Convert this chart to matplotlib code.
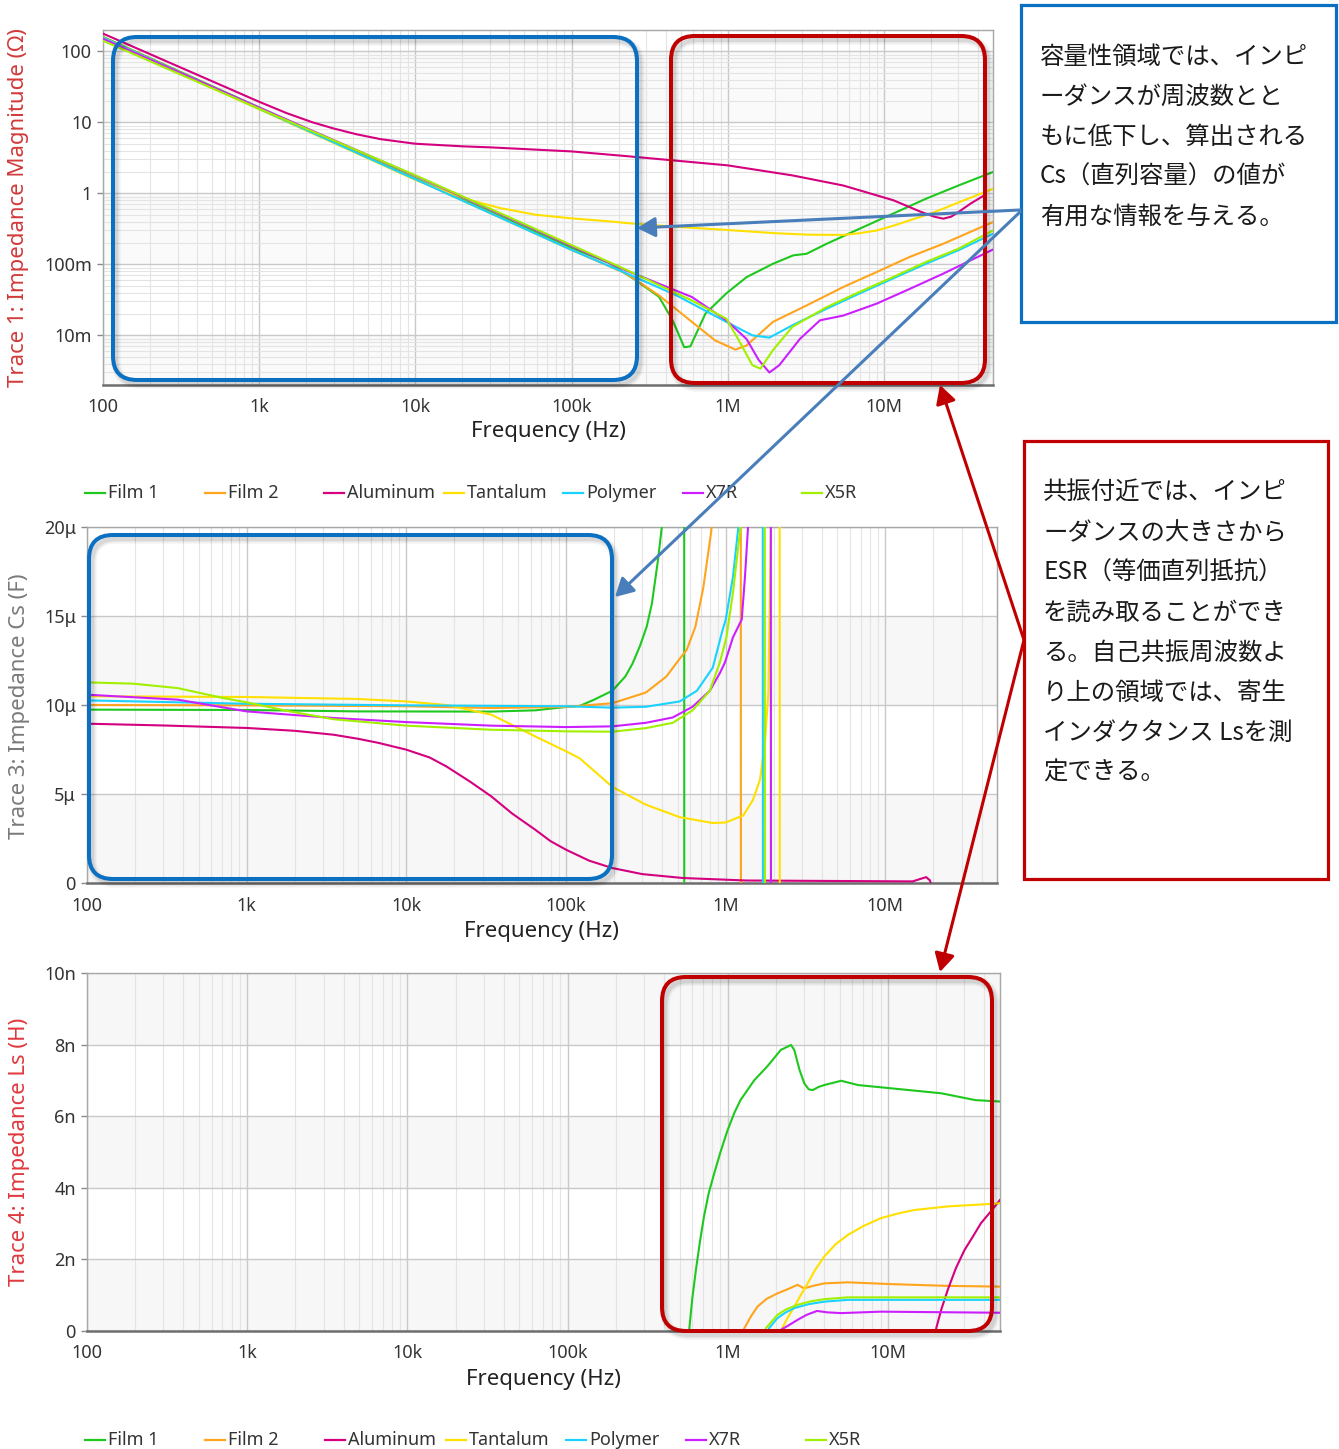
import matplotlib
matplotlib.use("Agg")
import matplotlib.pyplot as plt
from matplotlib.patches import FancyBboxPatch, Rectangle, FancyArrowPatch, ArrowStyle
from matplotlib.lines import Line2D
from matplotlib.transforms import IdentityTransform
from matplotlib.ticker import FixedLocator, FixedFormatter, LogLocator, NullFormatter

W, H = 1339, 1449
DPI = 100

plt.rcParams['font.family'] = ['Noto Sans', 'Noto Sans CJK JP', 'DejaVu Sans']

# ---------------- series ----------------
names = ["Film 1", "Film 2", "Aluminum", "Tantalum", "Polymer", "X7R", "X5R"]
colors = ["#1ec81e", "#ffa41c", "#d4007f", "#ffe000", "#1ad2ff", "#cc1fff", "#a2f000"]

# Trace 1: impedance magnitude (ohm)
z_film1_f = [1e2, 1e3, 1e4, 1e5, 1.74e5, 2.57e5, 3.63e5, 4.44e5, 5.27e5, 5.77e5, 7.2e5, 9.8e5,
             1.32e6, 1.95e6, 2.63e6, 3.2e6, 4.3e6, 7e6, 1.14e7, 1.86e7, 3e7, 5e7]
z_film1 = [160, 16.2, 1.63, 0.17, 0.105, 0.06, 0.035, 0.0163, 0.0068, 0.0070, 0.0202, 0.039,
           0.066, 0.102, 0.134, 0.141, 0.195, 0.318, 0.516, 0.84, 1.29, 2.0]
z_film2_f = [1e2, 1e3, 1e4, 1e5, 2.24e5, 3.63e5, 5.9e5, 8.3e5, 1.12e6, 1.32e6, 1.95e6, 3.2e6,
             5.5e6, 9e6, 1.46e7, 2.4e7, 5e7]
z_film2 = [157, 15.8, 1.59, 0.16, 0.074, 0.0366, 0.0155, 0.0085, 0.0063, 0.0072, 0.0155, 0.0264,
           0.048, 0.078, 0.127, 0.195, 0.395]
z_alu_f = [1e2, 1e3, 1.5e3, 2.2e3, 3e3, 4.2e3, 6e3, 1e4, 2e4, 3e4, 1e5, 2.24e5, 1e6, 2.6e6,
           5.5e6, 1.15e7, 1.7e7, 2.1e7, 2.4e7, 2.7e7, 3e7, 3.6e7, 4.4e7]
z_alu = [178, 19.5, 13.5, 10.0, 8.2, 6.8, 5.8, 5.0, 4.6, 4.45, 3.9, 3.35, 2.48, 1.79, 1.29,
         0.80, 0.557, 0.47, 0.44, 0.47, 0.545, 0.72, 0.94]
z_tant_f = [1e2, 1e3, 1e4, 1.5e4, 2.36e4, 3.5e4, 5.9e4, 1e5, 1.6e5, 2.5e5, 5e5, 1e6, 2e6, 3.3e6,
            5.5e6, 7e6, 9e6, 1.15e7, 1.46e7, 2e7, 2.4e7, 3.5e7, 5e7]
z_tant = [152, 15.3, 1.55, 1.1, 0.78, 0.62, 0.50, 0.445, 0.41, 0.375, 0.335, 0.305, 0.275, 0.262,
          0.26, 0.275, 0.30, 0.35, 0.417, 0.52, 0.61, 0.85, 1.16]
z_poly_f = [1e2, 1e3, 1e4, 1e5, 2.24e5, 4.7e5, 9.8e5, 1.44e6, 1.85e6, 2.6e6, 4.3e6, 7e6, 1.14e7,
            1.86e7, 3e7, 5e7]
z_poly = [155, 15.6, 1.58, 0.16, 0.075, 0.0366, 0.0155, 0.0100, 0.0093, 0.0139, 0.0237, 0.039,
          0.063, 0.102, 0.158, 0.27]
z_x7r_f = [1e2, 1e3, 1e4, 1e5, 2.24e5, 5.9e5, 9.8e5, 1.32e6, 1.58e6, 1.85e6, 2.14e6, 2.9e6,
           3.9e6, 5.5e6, 9e6, 1.46e7, 2.4e7, 5e7]
z_x7r = [150, 16.2, 1.77, 0.181, 0.082, 0.0347, 0.0163, 0.0089, 0.0045, 0.0030, 0.0038, 0.0089,
         0.0163, 0.019, 0.028, 0.045, 0.074, 0.162]
z_x5r_f = [1e2, 1e3, 1e4, 1e5, 2.24e5, 5.9e5, 9.8e5, 1.18e6, 1.44e6, 1.62e6, 1.95e6, 2.6e6,
           4.3e6, 7e6, 1.14e7, 1.86e7, 3e7, 5e7]
z_x5r = [141, 15.6, 1.80, 0.187, 0.084, 0.031, 0.0172, 0.0085, 0.0038, 0.0034, 0.0062, 0.0132,
         0.025, 0.041, 0.066, 0.108, 0.166, 0.30]

# Trace 3: series capacitance Cs (uF)
cs_film1_f = [1e2, 1e3, 5e3, 3.4e4, 6.4e4, 1e5, 1.22e5, 1.5e5, 1.95e5, 2.35e5, 2.6e5, 2.9e5,
              3.2e5, 3.45e5, 3.76e5, 3.98e5, 4.8e5, 5.49e5, 5.51e5, 1e6, 5e7]
cs_film1 = [9.74, 9.72, 9.64, 9.63, 9.7, 9.89, 9.95, 10.3, 10.8, 11.6, 12.3, 13.3, 14.4, 15.7,
            18.1, 20.0, 40, 60, -60, -5, -0.1]
cs_film2_f = [1e2, 1e3, 1e4, 3.4e4, 1e5, 1.95e5, 3.16e5, 4.25e5, 5.15e5, 5.7e5, 6.46e5, 7.24e5,
              8.13e5, 1.0e6, 1.24e6, 1.25e6, 5e7]
cs_film2 = [10.0, 9.98, 9.93, 9.83, 9.89, 10.1, 10.7, 11.6, 12.6, 13.1, 14.4, 16.6, 19.8, 35,
            60, -60, -0.1]
cs_alu_f = [1e2, 3e2, 1e3, 2e3, 3.5e3, 5e3, 6.7e3, 1e4, 1.4e4, 1.78e4, 2.5e4, 3.4e4, 4.6e4,
            6.4e4, 8e4, 1e5, 1.4e5, 1.95e5, 3e5, 5.4e5, 1.35e6, 1.48e7, 1.8e7, 1.9e7, 2.0e7, 5e7]
cs_alu = [8.95, 8.85, 8.71, 8.55, 8.33, 8.1, 7.87, 7.49, 7.05, 6.55, 5.7, 4.87, 3.9, 3.0, 2.35,
          1.87, 1.25, 0.84, 0.5, 0.28, 0.14, 0.09, 0.33, 0.15, -0.5, -0.2]
cs_tant_f = [1e2, 1e3, 4.9e3, 1e4, 1.78e4, 3.4e4, 6.4e4, 1e5, 1.22e5, 1.95e5, 3.16e5, 5.15e5,
             8.3e5, 1e6, 1.29e6, 1.48e6, 1.64e6, 1.76e6, 1.85e6, 1.92e6, 2.05e6, 2.17e6, 2.19e6, 5e7]
cs_tant = [10.49, 10.45, 10.34, 10.2, 10.0, 9.46, 8.24, 7.4, 7.0, 5.4, 4.4, 3.7, 3.37, 3.4, 3.8,
           4.66, 5.8, 7.9, 10.7, 20.0, 40, 60, -60, -0.1]
cs_poly_f = [1e2, 1e3, 1e4, 1e5, 1.95e5, 3.16e5, 5.15e5, 6.6e5, 8.3e5, 9.55e5, 1e6, 1.11e6,
             1.2e6, 1.5e6, 1.70e6, 1.72e6, 5e7]
cs_poly = [10.26, 10.07, 9.98, 9.93, 9.85, 9.9, 10.2, 10.8, 12.1, 14.2, 14.8, 17.2, 20.0, 35,
           60, -60, -0.1]
cs_x7r_f = [1e2, 3.7e2, 1e3, 3.5e3, 1e4, 3.4e4, 1e5, 1.95e5, 3.16e5, 4.66e5, 6.2e5, 7.95e5,
            9.2e5, 9.9e5, 1.11e6, 1.26e6, 1.32e6, 1.38e6, 1.6e6, 1.91e6, 1.93e6, 5e7]
cs_x7r = [10.58, 10.3, 9.64, 9.27, 9.04, 8.84, 8.76, 8.8, 9.0, 9.3, 9.9, 10.8, 11.8, 12.4, 13.8,
          14.8, 17.2, 20.0, 35, 60, -60, -0.1]
cs_x5r_f = [1e2, 1.94e2, 3.7e2, 7.05e2, 1e3, 1.86e3, 3.5e3, 1e4, 3.4e4, 1e5, 1.95e5, 3.16e5,
            4.66e5, 6.2e5, 7.95e5, 9.2e5, 1.01e6, 1.11e6, 1.23e6, 1.5e6, 1.75e6, 1.77e6, 5e7]
cs_x5r = [11.27, 11.2, 10.95, 10.4, 10.15, 9.64, 9.2, 8.84, 8.61, 8.52, 8.5, 8.7, 9.0, 9.7, 10.8,
          12.4, 13.8, 16.3, 19.8, 35, 60, -60, -0.1]

# Trace 4: series inductance Ls (nH)
ls_film1_f = [5.5e5, 5.73e5, 6e5, 6.32e5, 6.7e5, 7.1e5, 7.6e5, 8.22e5, 9e5, 9.95e5, 1.1e6,
              1.2e6, 1.46e6, 1.77e6, 2.14e6, 2.48e6, 2.6e6, 2.8e6, 3.0e6, 3.2e6, 3.39e6, 3.7e6,
              4.0e6, 5.1e6, 6.5e6, 1.04e7, 2.15e7, 3.5e7, 5e7]
ls_film1 = [-1.5, 0.0, 0.9, 1.7, 2.5, 3.2, 3.85, 4.4, 5.0, 5.6, 6.1, 6.45, 7.0, 7.4, 7.85, 7.99,
            7.85, 7.3, 6.92, 6.75, 6.73, 6.82, 6.87, 6.99, 6.87, 6.78, 6.64, 6.45, 6.41]
ls_film2_f = [1.15e6, 1.24e6, 1.4e6, 1.53e6, 1.75e6, 2.04e6, 2.4e6, 2.72e6, 3.0e6, 3.4e6, 4e6,
              5.6e6, 1.04e7, 2.36e7, 5e7]
ls_film2 = [-0.8, 0.0, 0.42, 0.68, 0.9, 1.05, 1.18, 1.29, 1.19, 1.26, 1.33, 1.36, 1.31, 1.26, 1.24]
ls_alu_f = [1.9e7, 2.0e7, 2.15e7, 2.36e7, 2.65e7, 3.0e7, 3.4e7, 3.8e7, 4.4e7, 5e7]
ls_alu = [-0.8, 0.08, 0.6, 1.15, 1.75, 2.26, 2.65, 3.01, 3.35, 3.66]
ls_tant_f = [2.0e6, 2.14e6, 2.35e6, 2.6e6, 2.85e6, 3.15e6, 3.5e6, 4.0e6, 4.7e6, 5.6e6, 7e6,
             9.0e6, 1.15e7, 1.46e7, 2.36e7, 4.4e7, 5e7]
ls_tant = [-0.8, 0.0, 0.35, 0.68, 1.0, 1.33, 1.7, 2.08, 2.42, 2.68, 2.93, 3.15, 3.28, 3.38, 3.48,
           3.55, 3.57]
ls_poly_f = [1.7e6, 1.81e6, 2.04e6, 2.3e6, 2.6e6, 3.2e6, 4e6, 5.6e6, 5e7]
ls_poly = [-0.5, 0.08, 0.36, 0.52, 0.64, 0.75, 0.82, 0.87, 0.87]
ls_x7r_f = [2.0e6, 2.14e6, 2.4e6, 2.72e6, 3.1e6, 3.6e6, 4.2e6, 5.1e6, 9e6, 5e7]
ls_x7r = [-0.5, 0.03, 0.16, 0.31, 0.45, 0.56, 0.52, 0.50, 0.54, 0.51]
ls_x5r_f = [1.6e6, 1.73e6, 2.04e6, 2.3e6, 2.72e6, 3.3e6, 4e6, 5.6e6, 5e7]
ls_x5r = [-0.5, 0.08, 0.45, 0.6, 0.73, 0.83, 0.89, 0.94, 0.94]

freq_ticks = [1e2, 1e3, 1e4, 1e5, 1e6, 1e7]
freq_labels = ["100", "1k", "10k", "100k", "1M", "10M"]
z_ticks = [1e-2, 1e-1, 1, 10, 100]
z_labels = ["10m", "100m", "1", "10", "100"]
cs_ticks = [0, 5, 10, 15, 20]
cs_labels = ["0", "5μ", "10μ", "15μ", "20μ"]
ls_ticks = [0, 2, 4, 6, 8, 10]
ls_labels = ["0", "2n", "4n", "6n", "8n", "10n"]

z_series = [(z_film1_f, z_film1), (z_film2_f, z_film2), (z_alu_f, z_alu), (z_tant_f, z_tant),
            (z_poly_f, z_poly), (z_x7r_f, z_x7r), (z_x5r_f, z_x5r)]
cs_series = [(cs_film1_f, cs_film1), (cs_film2_f, cs_film2), (cs_alu_f, cs_alu),
             (cs_tant_f, cs_tant), (cs_poly_f, cs_poly), (cs_x7r_f, cs_x7r), (cs_x5r_f, cs_x5r)]
ls_series = [(ls_film1_f, ls_film1), (ls_film2_f, ls_film2), (ls_alu_f, ls_alu),
             (ls_tant_f, ls_tant), (ls_poly_f, ls_poly), (ls_x7r_f, ls_x7r), (ls_x5r_f, ls_x5r)]

# ---------------- figure ----------------
fig = plt.figure(figsize=(W / DPI, H / DPI), dpi=DPI)
fig.patch.set_facecolor("white")
pix = IdentityTransform()

TEXT = "#333333"
GRID_MAJ = "#c9c9c9"
GRID_MIN = "#e4e4e4"


def add_axes_px(left, top, right, bottom):
    return fig.add_axes([left / W, 1 - bottom / H, (right - left) / W, (bottom - top) / H])


def style_axes(ax, xpad):
    ax.set_xscale("log")
    ax.set_xlim(1e2, 5e7)
    ax.xaxis.set_major_locator(FixedLocator(freq_ticks))
    ax.xaxis.set_major_formatter(FixedFormatter(freq_labels))
    ax.xaxis.set_minor_locator(LogLocator(base=10, subs=range(2, 10), numticks=20))
    ax.xaxis.set_minor_formatter(NullFormatter())
    ax.tick_params(axis="x", which="both", length=0, pad=xpad, labelsize=13, labelcolor=TEXT)
    ax.tick_params(axis="y", which="major", length=4, width=1, color="#8a8a8a",
                   pad=4, labelsize=13, labelcolor=TEXT)
    ax.tick_params(axis="y", which="minor", length=0)
    ax.set_axisbelow(True)
    for side in ("top", "right", "left"):
        ax.spines[side].set_color("#a8a8a8")
        ax.spines[side].set_linewidth(1.0)
    ax.spines["bottom"].set_color("#6e6e6e")
    ax.spines["bottom"].set_linewidth(1.8)


def draw_series(ax, series):
    for (f, v), c in zip(series, colors):
        ax.plot(f, v, color=c, lw=1.5, solid_joinstyle="round", zorder=3)


# Trace 1: |Z|
ax1 = add_axes_px(103, 30, 993, 385)
style_axes(ax1, 9)
ax1.set_yscale("log")
ax1.set_ylim(2e-3, 200)
ax1.yaxis.set_major_locator(FixedLocator(z_ticks))
ax1.yaxis.set_major_formatter(FixedFormatter(z_labels))
ax1.yaxis.set_minor_locator(LogLocator(base=10, subs=range(2, 10), numticks=20))
ax1.yaxis.set_minor_formatter(NullFormatter())
for lo, hi in [(2e-3, 1e-2), (1e-1, 1), (10, 100)]:
    ax1.axhspan(lo, hi, color="#fafafa", lw=0, zorder=0.1)
ax1.grid(which="major", axis="both", color=GRID_MAJ, lw=1.0)
ax1.grid(which="minor", axis="both", color=GRID_MIN, lw=0.8)
draw_series(ax1, z_series)

# Trace 3: Cs
ax2 = add_axes_px(87, 527, 997, 883)
style_axes(ax2, 10)
ax2.set_ylim(0, 20)
ax2.yaxis.set_major_locator(FixedLocator(cs_ticks))
ax2.yaxis.set_major_formatter(FixedFormatter(cs_labels))
for lo, hi in [(0, 5), (10, 15)]:
    ax2.axhspan(lo, hi, color="#f7f7f7", lw=0, zorder=0.1)
ax2.grid(which="major", axis="both", color=GRID_MAJ, lw=1.0)
ax2.grid(which="minor", axis="x", color=GRID_MIN, lw=0.8)
draw_series(ax2, cs_series)

# Trace 4: Ls
ax3 = add_axes_px(87, 973, 1000, 1331)
style_axes(ax3, 9.5)
ax3.set_ylim(0, 10)
ax3.yaxis.set_major_locator(FixedLocator(ls_ticks))
ax3.yaxis.set_major_formatter(FixedFormatter(ls_labels))
for lo, hi in [(0, 2), (4, 6), (8, 10)]:
    ax3.axhspan(lo, hi, color="#f7f7f7", lw=0, zorder=0.1)
ax3.grid(which="major", axis="both", color=GRID_MAJ, lw=1.0)
ax3.grid(which="minor", axis="x", color=GRID_MIN, lw=0.8)
draw_series(ax3, ls_series)

# axis titles
for xc, yc in [(548, 432), (541, 931), (543, 1379)]:
    fig.text(xc, H - yc, "Frequency (Hz)", transform=pix, ha="center", va="center",
             fontsize=16, color="#222222")
fig.text(19, H - 208, "Trace 1: Impedance Magnitude (Ω)", transform=pix, rotation=90,
         ha="center", va="center", fontsize=16, color="#d23a3a")
fig.text(20, H - 706, "Trace 3: Impedance Cs (F)", transform=pix, rotation=90,
         ha="center", va="center", fontsize=16, color="#7a7a7a")
fig.text(20, H - 1152, "Trace 4: Impedance Ls (H)", transform=pix, rotation=90,
         ha="center", va="center", fontsize=16, color="#e0393e")


# legends
def legend_row(x0, step, y):
    for i, (name, c) in enumerate(zip(names, colors)):
        x = x0 + i * step
        fig.add_artist(Line2D([x, x + 20], [H - y, H - y], transform=pix, color=c, lw=1.6))
        fig.text(x + 23, H - y, name, transform=pix, ha="left", va="center",
                 fontsize=13, color=TEXT)


legend_row(85, 119.5, 493)
legend_row(85, 120.2, 1440)


# highlight frames with a soft drop shadow
def round_box(x0, y0, x1, y1, color):
    for k, a in [(7, 0.035), (5, 0.05), (3, 0.07)]:
        fig.add_artist(FancyBboxPatch((x0 + 3, H - y1 - 4), x1 - x0, y1 - y0,
                                      boxstyle="round,pad=0,rounding_size=24", transform=pix,
                                      fill=False, ec="#000000", lw=k, alpha=a, zorder=5))
    fig.add_artist(FancyBboxPatch((x0, H - y1), x1 - x0, y1 - y0,
                                  boxstyle="round,pad=0,rounding_size=24", transform=pix,
                                  fill=False, ec=color, lw=2.9, zorder=6))


BLUE = "#0b70c2"
RED = "#c00000"
round_box(113, 37, 637, 380, BLUE)
round_box(671, 36, 985, 383, RED)
round_box(89, 535, 612, 879, BLUE)
round_box(662, 977, 992, 1331, RED)

# callout boxes
fig.add_artist(Rectangle((1021, H - 322), 315, 317, transform=pix, fill=False,
                         ec=BLUE, lw=2.3, zorder=6))
fig.add_artist(Rectangle((1024, H - 879), 304, 438, transform=pix, fill=False,
                         ec=RED, lw=2.3, zorder=6))

jp = ["Noto Sans CJK JP", "DejaVu Sans"]
blue_lines = ["容量性領域では、インピ", "ーダンスが周波数とと", "もに低下し、算出される",
              "Cs（直列容量）の値が", "有用な情報を与える。"]
red_lines = ["共振付近では、インピ", "ーダンスの大きさから", "ESR（等価直列抵抗）",
             "を読み取ることができ", "る。自己共振周波数よ", "り上の領域では、寄生",
             "インダクタンス Lsを測", "定できる。"]
for i, s in enumerate(blue_lines):
    fig.text(1040, H - (57 + 40 * i), s, transform=pix, ha="left", va="center",
             fontsize=17.6, family=jp, color="#1a1a1a")
for i, s in enumerate(red_lines):
    fig.text(1043, H - (493 + 40 * i), s, transform=pix, ha="left", va="center",
             fontsize=17.6, family=jp, color="#1a1a1a")

# connector arrows
head = ArrowStyle("-|>", head_length=1.0, head_width=0.55)
ARROW_BLUE = "#4a7ebb"
for (xa, ya), (xb, yb), col in [((1020, 210), (637, 228), ARROW_BLUE),
                                ((1020, 212), (615, 597), ARROW_BLUE),
                                ((1024, 640), (940, 385), RED),
                                ((1024, 640), (940, 972), RED)]:
    fig.add_artist(FancyArrowPatch((xa, H - ya), (xb, H - yb), transform=pix,
                                   arrowstyle=head, mutation_scale=11, color=col,
                                   lw=2.2, shrinkA=0, shrinkB=0, zorder=7))

fig.savefig("out.png", dpi=DPI, facecolor="white")
